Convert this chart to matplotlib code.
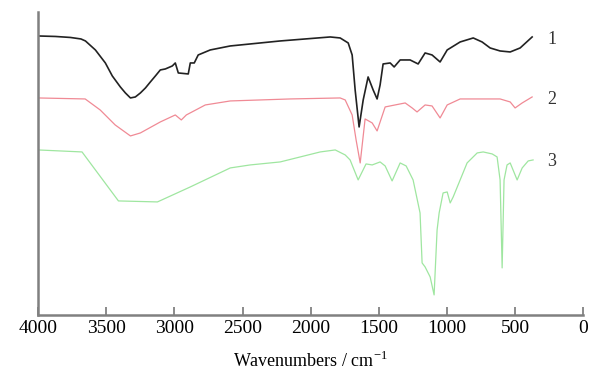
import matplotlib
matplotlib.use("Agg")
import matplotlib.pyplot as plt

plt.rcParams['font.family'] = ['Liberation Serif', 'DejaVu Serif']

# spectrum 1 (black)
wn1 = [4000, 3872, 3762, 3685, 3652, 3579, 3506, 3455, 3396, 3359, 3322, 3286,
       3249, 3212, 3176, 3139, 3103, 3066,
       3015, 2993, 2971, 2898, 2883, 2854, 2825, 2737, 2590, 2224, 1857, 1784,
       1725, 1696, 1674, 1645, 1615, 1579, 1542, 1513, 1491, 1469, 1417, 1388,
       1344, 1271, 1212, 1161, 1110, 1051, 999, 904, 808, 743, 684, 611, 537,
       464, 376]
t1 = [279, 278.5, 277.5, 276, 274, 265, 252, 239, 228, 222, 217, 218,
      222, 227, 233, 239, 245, 246,
      249, 252, 242, 241, 252, 252, 260, 265, 269, 274, 278, 277,
      272, 260, 225, 188, 215, 238, 225, 216, 230, 251, 252, 248,
      255, 255, 251, 262, 260, 253, 265, 273, 277, 273, 267, 264, 263,
      267, 278]

# spectrum 2 (red)
wn2 = [4000, 3654, 3544, 3434, 3322, 3249, 3103, 2993, 2949, 2912, 2773, 2590,
       2150, 1784, 1747, 1696, 1667, 1637, 1601, 1549, 1513, 1454, 1381, 1307,
       1256, 1220, 1161, 1110, 1051, 999, 904, 611, 537, 501, 449, 376]
t2 = [217, 216, 205, 190, 179, 182, 193, 200, 195, 200, 210, 214,
      216, 217, 215, 200, 175, 152, 196, 192, 184, 208, 210, 212,
      207, 203, 210, 209, 197, 210, 216, 216, 213, 207, 212, 218]

# spectrum 3 (green)
wn3 = [4000, 3677, 3410, 3124, 2883, 2590, 2444, 2224, 2077, 1930, 1820, 1747,
       1711, 1652, 1594, 1549, 1491, 1454, 1403, 1344, 1300, 1249, 1198, 1183,
       1161, 1124, 1095, 1073, 1058, 1029, 999, 977, 955, 904, 853, 779, 735,
       669, 633, 611, 596, 582, 560, 537, 486, 449, 405, 369]
t3 = [165, 163, 114, 113, 128, 147, 150, 153, 158, 163, 165, 160,
      155, 135, 151, 150, 153, 149, 134, 152, 149, 135, 102, 52,
      48, 38, 20, 85, 102, 122, 123, 112, 118, 135, 152, 162, 163,
      161, 158, 135, 47, 135, 150, 152, 135, 147, 154, 155]

labels = ['1', '2', '3']
label_y = [275, 215, 153]

fig = plt.figure(figsize=(5.89, 3.74), dpi=100)
ax = fig.add_axes([0.0645, 0.158, 0.926, 0.81])

ax.plot(wn1, t1, color='#222222', lw=1.2)
ax.plot(wn2, t2, color='#f08a95', lw=0.9)
ax.plot(wn3, t3, color='#9fe6a0', lw=0.9)

for lab, y in zip(labels, label_y):
    ax.text(230, y, lab, ha='center', va='center', fontsize=13, color='#333333')

ax.set_xlim(4000, 0)
ax.set_ylim(0, 303)
ax.set_xticks([4000, 3500, 3000, 2500, 2000, 1500, 1000, 500, 0])
ax.set_yticks([])
ax.tick_params(axis='x', direction='in', length=6, width=1.2, color='#777777',
               labelsize=14, pad=4)
for s in ['top', 'right']:
    ax.spines[s].set_visible(False)
for s in ['left', 'bottom']:
    ax.spines[s].set_color('#808080')
    ax.spines[s].set_linewidth(1.8)
ax.set_xlabel('Wavenumbers / cm$^{\\mathregular{-1}}$', fontsize=13, labelpad=10)

fig.savefig('out.png', dpi=100)
